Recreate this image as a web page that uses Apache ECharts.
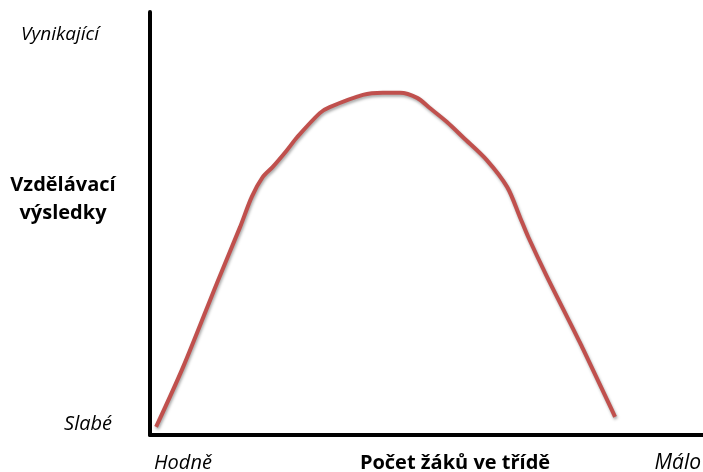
<!DOCTYPE html>
<html>
<head>
<meta charset="utf-8">
<script src="https://cdn.jsdelivr.net/npm/echarts@6/dist/echarts.min.js"></script>
<style>
html, body { margin: 0; padding: 0; background: #fff; }
#chart { width: 703px; height: 472px; }
</style>
</head>
<body>
<div id="chart"></div>
<script>
// curve (x: many pupils -> few, y: outcome 0..100)
const xValues = [1.1, 6.0, 12.1, 16.3, 18.4, 20.4, 22.2, 24.8, 26.6, 30.7, 32.5, 38.5, 42.1, 45.2, 48.3, 50.6, 53.7, 56.6, 60.9, 64.6, 66.9, 68.4, 71.8, 77.8, 84.1]
const yValues = [1.9, 16.1, 35.9, 49.2, 56.3, 61.0, 63.4, 67.4, 70.4, 76.1, 77.5, 80.4, 80.9, 80.9, 79.7, 77.3, 74.0, 70.4, 65.0, 58.6, 51.5, 46.8, 37.4, 21.7, 4.3]
const yLabels = ['Vynikající', 'Slabé']
const xLabels = ['Hodně', 'Málo']
const yTitle = 'Vzdělávací\nvýsledky'
const xTitle = 'Počet žáků ve třídě'

const chart = echarts.init(document.getElementById('chart'))
const font = 'Open Sans, Noto Sans, sans-serif'

const label = (text, x, y, align, size, weight) => ({
    type: 'text', x, y,
    style: {
        text, fill: '#000', align, verticalAlign: 'middle',
        font: weight + ' ' + size + 'px ' + font, lineHeight: 28
    }
})

chart.setOption({
    backgroundColor: '#fff',
    animation: false,
    grid: { left: 150, right: 0, top: 12, bottom: 37 },
    xAxis: {
        type: 'value', min: 0, max: 100,
        axisLine: { show: true, lineStyle: { color: '#000', width: 4 } },
        axisTick: { show: false }, axisLabel: { show: false }, splitLine: { show: false }
    },
    yAxis: {
        type: 'value', min: 0, max: 100,
        axisLine: { show: true, lineStyle: { color: '#000', width: 4 } },
        axisTick: { show: false }, axisLabel: { show: false }, splitLine: { show: false }
    },
    series: [{
        type: 'line',
        data: xValues.map((x, i) => [x, yValues[i]]),
        smooth: 0.3,
        showSymbol: false,
        lineStyle: {
            color: '#c0504d', width: 4,
            shadowColor: 'rgba(0,0,0,0.35)', shadowBlur: 3, shadowOffsetX: 1, shadowOffsetY: 2
        }
    }],
    graphic: [
        label(yLabels[0], 21, 35, 'left', 19, 'italic'),
        label(yLabels[1], 112, 424, 'right', 20, 'italic'),
        label(xLabels[0], 154, 463, 'left', 20, 'italic'),
        label(xLabels[1], 701, 463, 'right', 21, 'italic'),
        label(yTitle, 63, 199, 'center', 20, 'bold'),
        label(xTitle, 455, 463, 'center', 20, 'bold')
    ]
})
</script>
</body>
</html>
